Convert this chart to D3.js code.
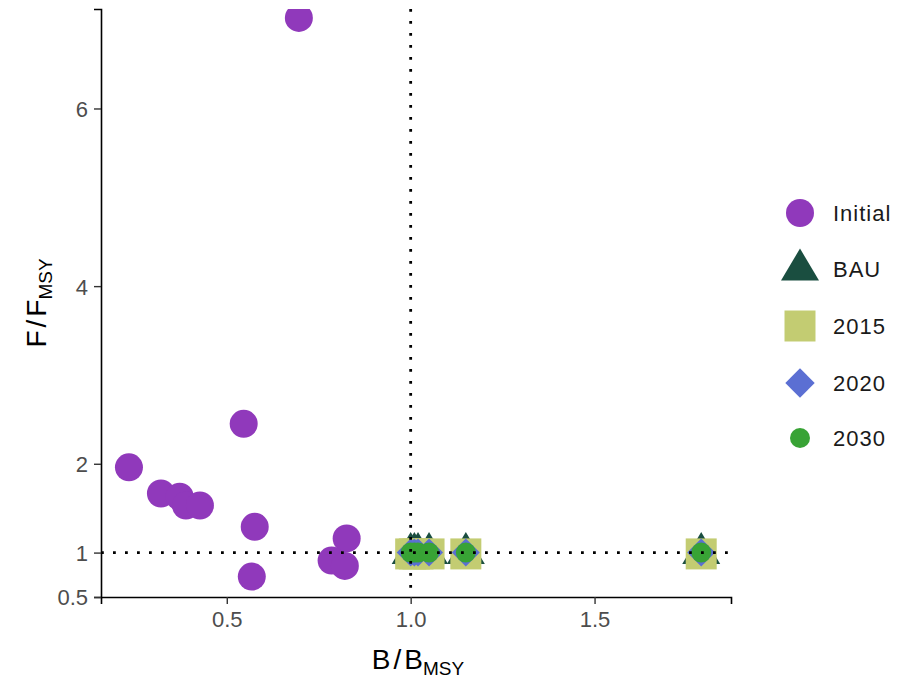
<!DOCTYPE html>
<html>
<head>
<meta charset="utf-8">
<script src="https://cdn.jsdelivr.net/npm/d3@7"></script>
<style>
  body { margin: 0; background: #fff; }
  svg text { font-family: "Liberation Sans", Arial, sans-serif; }
</style>
</head>
<body>
<div class="chart"></div>
<script>
// initial state of stocks
const initB = [0.234, 0.321, 0.372, 0.389, 0.427, 0.546, 0.576, 0.568, 0.826, 0.785, 0.821, 0.696];
const initF = [1.96, 1.665, 1.63, 1.53, 1.53, 2.45, 1.29, 0.73, 1.16, 0.91, 0.85, 7.02];

// scenario results
const bauB = [1.0, 1.01, 1.02, 1.05, 1.15, 1.79];
const bauF = [1, 1, 1, 1, 1, 1];
const s2015B = [1.0, 1.01, 1.02, 1.05, 1.15, 1.79];
const s2015F = [0.985, 0.985, 0.985, 0.985, 0.985, 0.985];
const s2020B = [1.0, 1.01, 1.02, 1.05, 1.15, 1.79];
const s2020F = [1, 1, 1, 1, 1, 1];
const s2030B = [1.0, 1.01, 1.02, 1.05, 1.15, 1.79];
const s2030F = [1, 1, 1, 1, 1, 1];

const legendLabels = ["Initial", "BAU", "2015", "2020", "2030"];
const xTicks = [0.5, 1.0, 1.5];
const yTicks = [0.5, 1, 2, 4, 6];

const colors = {
  Initial: "#9039BB",
  BAU: "#1A4E40",
  "2015": "#C3CC72",
  "2020": "#5B6FD3",
  "2030": "#38A335"
};

const width = 901, height = 680;
const margin = {top: 9, right: 170, bottom: 83, left: 101};

const svg = d3.select(".chart").append("svg")
  .attr("width", width)
  .attr("height", height);

const x = d3.scaleLinear().domain([0.158, 1.871]).range([margin.left, width - margin.right]);
const y = d3.scaleLinear().domain([0.5, 7.12]).range([height - margin.bottom, margin.top]);

// clip points to panel
svg.append("clipPath").attr("id", "panel")
  .append("rect")
  .attr("x", margin.left).attr("y", margin.top)
  .attr("width", x.range()[1] - margin.left)
  .attr("height", y.range()[0] - margin.top);

// shape generators
function triangle(s) {
  const hw = 19 * s, up = 20.5 * s, dn = 11.5 * s;
  return `M0,${-up}L${hw},${dn}L${-hw},${dn}Z`;
}
function square(s) {
  const h = 15.5 * s;
  return `M${-h},${-h}H${h}V${h}H${-h}Z`;
}
function diamond(s) {
  const h = 14 * s;
  return `M0,${-h}L${h},0L0,${h}L${-h},0Z`;
}

const pts = svg.append("g").attr("clip-path", "url(#panel)");

pts.selectAll("circle.init")
  .data(d3.zip(initB, initF))
  .join("circle")
    .attr("class", "init")
    .attr("cx", d => x(d[0]))
    .attr("cy", d => y(d[1]))
    .attr("r", 14)
    .attr("fill", colors.Initial);

pts.selectAll("path.bau")
  .data(d3.zip(bauB, bauF))
  .join("path")
    .attr("class", "bau")
    .attr("transform", d => `translate(${x(d[0])},${y(d[1])})`)
    .attr("d", triangle(1))
    .attr("fill", colors.BAU);

pts.selectAll("path.s2015")
  .data(d3.zip(s2015B, s2015F))
  .join("path")
    .attr("class", "s2015")
    .attr("transform", d => `translate(${x(d[0])},${y(d[1])})`)
    .attr("d", square(1))
    .attr("fill", colors["2015"]);

pts.selectAll("path.s2020")
  .data(d3.zip(s2020B, s2020F))
  .join("path")
    .attr("class", "s2020")
    .attr("transform", d => `translate(${x(d[0])},${y(d[1])})`)
    .attr("d", diamond(1))
    .attr("fill", colors["2020"]);

pts.selectAll("circle.s2030")
  .data(d3.zip(s2030B, s2030F))
  .join("circle")
    .attr("class", "s2030")
    .attr("cx", d => x(d[0]))
    .attr("cy", d => y(d[1]))
    .attr("r", 10)
    .attr("fill", colors["2030"]);

// reference lines (dotted)
svg.append("line")
  .attr("x1", margin.left).attr("x2", x.range()[1])
  .attr("y1", y(1)).attr("y2", y(1))
  .attr("stroke", "#000").attr("stroke-width", 2.8)
  .attr("stroke-dasharray", "2.8,9.2");
svg.append("line")
  .attr("x1", x(1)).attr("x2", x(1))
  .attr("y1", y.range()[1]).attr("y2", y.range()[0])
  .attr("stroke", "#000").attr("stroke-width", 2.8)
  .attr("stroke-dasharray", "2.8,9.2");

// axes
const xAxis = svg.append("g")
  .attr("transform", `translate(0,${y.range()[0]})`)
  .call(d3.axisBottom(x).tickValues(xTicks).tickFormat(d3.format(".1f")).tickSize(7).tickPadding(7));
const yAxis = svg.append("g")
  .attr("transform", `translate(${margin.left},0)`)
  .call(d3.axisLeft(y).tickValues(yTicks).tickFormat(d => d).tickSize(7).tickPadding(6));

[xAxis, yAxis].forEach(g => {
  g.select(".domain").attr("stroke", "#000").attr("stroke-width", 1.6);
  g.selectAll(".tick line").attr("stroke", "#333").attr("stroke-width", 1.4);
  g.selectAll(".tick text").attr("fill", "#4D4D4D").style("font-size", "22px");
});
yAxis.selectAll(".tick text").attr("dy", "0.36em");

// axis titles
const xt = svg.append("text")
  .attr("x", (margin.left + x.range()[1]) / 2 + 2)
  .attr("y", 669)
  .attr("text-anchor", "middle")
  .style("font-size", "28px")
  .attr("fill", "#000");
xt.append("tspan").text("B");
xt.append("tspan").attr("dx", 3).text("/");
xt.append("tspan").attr("dx", 3).text("B");
xt.append("tspan").attr("dy", 6).style("font-size", "19px").text("MSY");

const yt = svg.append("text")
  .attr("transform", `translate(46,${(margin.top + y.range()[0]) / 2}) rotate(-90)`)
  .attr("text-anchor", "middle")
  .style("font-size", "28px")
  .attr("fill", "#000");
yt.append("tspan").text("F");
yt.append("tspan").attr("dx", 3).text("/");
yt.append("tspan").attr("dx", 3).text("F");
yt.append("tspan").attr("dy", 6).style("font-size", "19px").text("MSY");

// legend
const legY = [213, 269, 326, 383, 438];
const leg = svg.append("g");
legendLabels.forEach((lab, i) => {
  const g = leg.append("g").attr("transform", `translate(800,${legY[i]})`);
  if (lab === "Initial") g.append("circle").attr("r", 14).attr("fill", colors[lab]);
  else if (lab === "BAU") g.append("path").attr("d", triangle(1)).attr("fill", colors[lab]);
  else if (lab === "2015") g.append("path").attr("d", square(1)).attr("fill", colors[lab]);
  else if (lab === "2020") g.append("path").attr("d", diamond(1.05)).attr("fill", colors[lab]);
  else g.append("circle").attr("r", 10).attr("fill", colors[lab]);
  g.append("text")
    .attr("x", 33)
    .attr("dy", "0.36em")
    .style("font-size", "22px")
    .style("letter-spacing", "1px")
    .attr("fill", "#1a1a1a")
    .text(lab);
});
</script>
</body>
</html>
